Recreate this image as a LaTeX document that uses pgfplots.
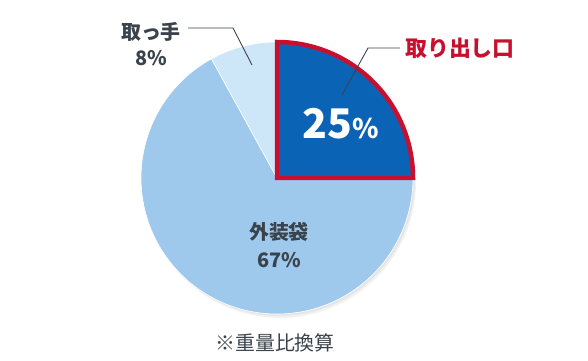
\documentclass[border=0pt]{standalone}
\usepackage{pgfplots}
\usepackage{pgfplotstable}
\pgfplotsset{compat=1.18}
\usepackage{fontspec}
\setmainfont{Noto Sans CJK JP}
\definecolor{cDark}{HTML}{0B63B6}
\definecolor{cLight}{HTML}{9FC9EC}
\definecolor{cPale}{HTML}{CDE6F8}
\definecolor{cRed}{HTML}{C8102E}
\definecolor{cText}{HTML}{3A434C}
\pgfplotstableread{
part value
取り出し口 25
取っ手 8
外装袋 67
}\piedata
\pgfplotstablegetelem{0}{value}\of\piedata \let\vA\pgfplotsretval
\pgfplotstablegetelem{1}{value}\of\piedata \let\vB\pgfplotsretval
\pgfplotstablegetelem{2}{value}\of\piedata \let\vC\pgfplotsretval
\pgfmathsetmacro\aAstart{90-3.6*\vA}
\pgfmathsetmacro\aBend{90+3.6*\vB}
\pgfmathsetmacro\aCend{\aBend+3.6*\vC}
\begin{document}
\begin{tikzpicture}
\begin{axis}[
  width=588bp, height=361bp, scale only axis,
  xmin=0, xmax=588, ymin=0, ymax=361,
  axis lines=none, clip=false,
]
\path (axis cs:0,0) rectangle (axis cs:588,361);
% soft shadow
\addplot[draw=none, fill=black, opacity=0.05, domain=0:360, samples=120]
  ({280+136*cos(x)},{179+136*sin(x)});
\addplot[draw=none, fill=black, opacity=0.05, domain=0:360, samples=120]
  ({279+136*cos(x)},{181+136*sin(x)});
% 67%
\addplot[draw=white, line width=0.6pt, fill=cLight, domain=\aBend:\aCend, samples=120]
  ({277+136*cos(x)},{183+136*sin(x)}) -- (axis cs:277,183) -- cycle;
% 8%
\addplot[draw=white, line width=0.6pt, fill=cPale, domain=90:\aBend, samples=30]
  ({277+136*cos(x)},{183+136*sin(x)}) -- (axis cs:277,183) -- cycle;
% 25%
\addplot[draw=cRed, line width=4.5pt, line join=miter, fill=cDark, domain=\aAstart:90, samples=60]
  ({277+136*cos(x)},{183+136*sin(x)}) -- (axis cs:277,183) -- cycle;
% labels
\draw[cText, line width=0.9pt] (axis cs:342,266) -- (axis cs:368,313) -- (axis cs:400,313);
\node[anchor=west, text=cRed, font=\fontsize{22}{24}\selectfont\bfseries, inner sep=0pt] at (axis cs:405,313) {取り出し口};
\node[text=white, font=\bfseries, inner sep=0pt] at (axis cs:341,237)
  {\fontsize{41}{43}\selectfont 25\fontsize{27}{29}\selectfont\%};
\draw[cText, line width=0.9pt] (axis cs:188,333) -- (axis cs:233,333) -- (axis cs:252,296);
\node[text=cText, font=\fontsize{20}{22}\selectfont\bfseries, inner sep=0pt] at (axis cs:151,329) {取っ手};
\node[text=cText, font=\fontsize{20}{22}\selectfont\bfseries, inner sep=0pt] at (axis cs:151,303) {8\%};
\node[text=cText, font=\fontsize{20}{22}\selectfont\bfseries, inner sep=0pt] at (axis cs:279,129) {外装袋};
\node[text=cText, font=\fontsize{20}{22}\selectfont\bfseries, inner sep=0pt] at (axis cs:279,101) {67\%};
\node[text=cText, font=\fontsize{20}{22}\selectfont, inner sep=0pt] at (axis cs:275,18) {※重量比換算};
\end{axis}
\end{tikzpicture}
\end{document}
